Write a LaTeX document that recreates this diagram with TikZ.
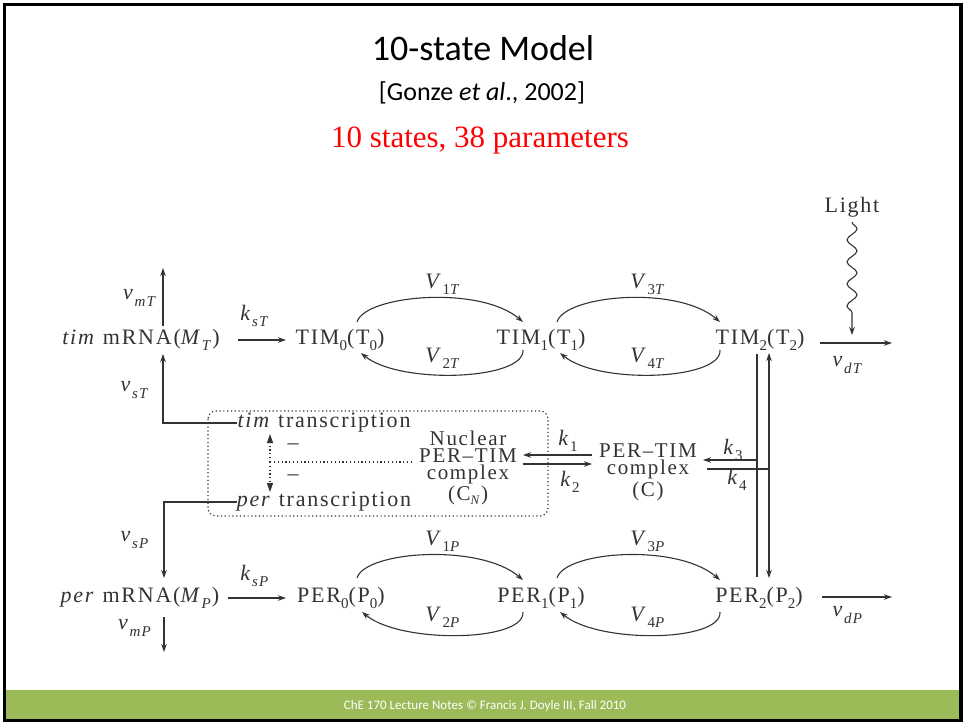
\documentclass[tikz,border=0pt]{standalone}
\usepackage{fontspec}
\setmainfont{Liberation Serif}
\newfontfamily\titlefont{Carlito}
\newfontfamily\dfont[LetterSpace=8]{Liberation Serif}
\usetikzlibrary{arrows.meta,decorations.pathmorphing}
\definecolor{footgreen}{HTML}{9BBB59}
\definecolor{ink}{HTML}{333333}
\newcommand{\sbs}[1]{\raisebox{-0.28em}{\fontsize{15}{15}\selectfont #1}}
\newcommand{\sbn}[1]{\raisebox{-0.2em}{\fontsize{13}{13}\selectfont #1}}
\begin{document}
\begin{tikzpicture}[x=1pt,y=-1pt,
  lbl/.style={inner sep=0pt, font=\dfont\fontsize{22}{17}\selectfont, text=ink},
  cline/.style={inner sep=0pt, font=\dfont\fontsize{21}{17}\selectfont, text=ink, text height=11pt, text depth=1pt},
  arr/.style={draw=ink, line width=1.1pt, -{Stealth[length=8pt,width=5.5pt]}},
  ln/.style={draw=ink, line width=1.1pt},
  dots/.style={draw=ink, line width=1.2pt, dash pattern=on 1.2pt off 2.6pt}]
\useasboundingbox (0,0) rectangle (965,723);
\fill[white] (0,0) rectangle (965,723);
% footer and frame
\fill[footgreen] (6,690) rectangle (960,719);
\node[inner sep=0pt, font=\titlefont\fontsize{13}{13}\selectfont, text=white] (foot) at (485,706) {ChE 170 Lecture Notes © Francis J. Doyle III, Fall 2010};
\draw[line width=3.5pt, black] (4.5,4.5) rectangle (961,720.5);
% titles
\node[inner sep=0pt, font=\titlefont\fontsize{36}{36}\selectfont] (title) at (483,48) {10-state Model};
\node[inner sep=0pt, font=\titlefont\fontsize{26}{26}\selectfont] (ref) at (482,93) {[Gonze \textit{et al}., 2002]};
\node[inner sep=0pt, font=\fontsize{31}{31}\selectfont, text=red] (sub) at (480,140) {10 states, 38 parameters};

% main nodes
\node[lbl] (MT) at (141,340) {\textit{tim} mRNA(\textit{M}\sbs{\textit{T}})};
\node[lbl] (T0) at (340,340) {TIM\sbs{0}(T\sbs{0})};
\node[lbl] (T1) at (541,340) {TIM\sbs{1}(T\sbs{1})};
\node[lbl] (T2) at (760,340) {TIM\sbs{2}(T\sbs{2})};
\node[lbl] (MP) at (140,598) {\textit{per} mRNA(\textit{M}\sbs{\textit{P}})};
\node[lbl] (P0) at (341,598) {PER\sbs{0}(P\sbs{0})};
\node[lbl] (P1) at (541,598) {PER\sbs{1}(P\sbs{1})};
\node[lbl] (P2) at (759,598) {PER\sbs{2}(P\sbs{2})};
\node[lbl] (light) at (852,207) {Light};
\node[lbl] (timtr) at (324,423) {\textit{tim} transcription};
\node[lbl] (pertr) at (324,502) {\textit{per} transcription};
% nuclear complex, one node per line
\node[cline] (CNa) at (468,440) {Nuclear};
\node[cline] (CN) at (468,457) {PER–TIM};
\node[cline] (CNc) at (468,474) {complex};
\node[cline] (CNd) at (468,495) {(C\sbn{\textit{N}})};
% cytoplasmic complex
\node[cline] (C) at (648,452) {PER–TIM};
\node[cline] (Cb) at (648,469) {complex};
\node[cline] (Cc) at (648,491) {(C)};

% labels
\node[lbl] (lvmT) at (140,298) {\textit{v}\sbs{\textit{mT}}};
\node[lbl] (lvsT) at (135,390) {\textit{v}\sbs{\textit{sT}}};
\node[lbl] (lksT) at (255,316) {\textit{k}\sbs{\textit{sT}}};
\node[lbl] (lV1T) at (443,284) {\textit{V}\sbs{1\textit{T}}};
\node[lbl] (lV2T) at (443,358) {\textit{V}\sbs{2\textit{T}}};
\node[lbl] (lV3T) at (648,284) {\textit{V}\sbs{3\textit{T}}};
\node[lbl] (lV4T) at (648,358) {\textit{V}\sbs{4\textit{T}}};
\node[lbl] (lvdT) at (848,365) {\textit{v}\sbs{\textit{dT}}};
\node[lbl] (lvsP) at (135,540) {\textit{v}\sbs{\textit{sP}}};
\node[lbl] (lvmP) at (135,628) {\textit{v}\sbs{\textit{mP}}};
\node[lbl] (lksP) at (255,576) {\textit{k}\sbs{\textit{sP}}};
\node[lbl] (lV1P) at (443,541) {\textit{V}\sbs{1\textit{P}}};
\node[lbl] (lV2P) at (443,617) {\textit{V}\sbs{2\textit{P}}};
\node[lbl] (lV3P) at (648,541) {\textit{V}\sbs{3\textit{P}}};
\node[lbl] (lV4P) at (648,617) {\textit{V}\sbs{4\textit{P}}};
\node[lbl] (lvdP) at (848,615) {\textit{v}\sbs{\textit{dP}}};
\node[lbl] (lk1) at (568,441) {\textit{k}\sbs{1}};
\node[lbl] (lk2) at (570,482) {\textit{k}\sbs{2}};
\node[lbl] (lk3) at (733,450) {\textit{k}\sbs{3}};
\node[lbl] (lk4) at (737,480) {\textit{k}\sbs{4}};
\node[lbl] (minus1) at (293,447) {–};
\node[lbl] (minus2) at (293,478) {–};

% connector end points
\coordinate (MTtop) at (163,326);
\coordinate (MTout) at (163,268);
\coordinate (MTbot) at (163,354);
\coordinate (MTr) at (238,340);
\coordinate (T0l) at (286,340);
\coordinate (MPtop) at (164,578);
\coordinate (MPbot) at (164,617);
\coordinate (MPout) at (164,652);
\coordinate (MPr) at (228,598);
\coordinate (P0l) at (286,598);
\coordinate (T0ne) at (357,322);
\coordinate (T1nw) at (523,322);
\coordinate (T1sw) at (523,350);
\coordinate (T0se) at (361,353);
\coordinate (T1ne) at (557,322);
\coordinate (T2nw) at (720,322);
\coordinate (T2sw) at (720,350);
\coordinate (T1se) at (560,353);
\coordinate (P0ne) at (357,578);
\coordinate (P1nw) at (523,580);
\coordinate (P1sw) at (523,612);
\coordinate (P0se) at (362,612);
\coordinate (P1ne) at (557,578);
\coordinate (P2nw) at (720,580);
\coordinate (P2sw) at (720,612);
\coordinate (P1se) at (560,612);
\coordinate (lightS) at (852,222);
\coordinate (lightE) at (852,335);
\coordinate (T2r) at (820,343);
\coordinate (vdTend) at (892,343);
\coordinate (P2r) at (822,597);
\coordinate (vdPend) at (892,597);
\coordinate (T2bL) at (757,354);
\coordinate (P2tL) at (757,577);
\coordinate (T2bR) at (769,353);
\coordinate (P2tR) at (769,578);
\coordinate (k3s) at (757,460);
\coordinate (Cr) at (703,460);
\coordinate (Cr2) at (707,469);
\coordinate (k4e) at (769,469);
\coordinate (Cl1) at (592,455);
\coordinate (CNr1) at (523,455);
\coordinate (CNr2) at (523,464);
\coordinate (Cl2) at (592,464);
\coordinate (inhS) at (412,462);
\coordinate (inhM) at (270,462);
\coordinate (inhU) at (270,438);
\coordinate (inhD) at (270,488);

% mRNA connectors
\draw[arr] (MTtop) -- (MTout);
\draw[arr] (timtr.west) -| (MTbot);
\draw[arr] (MTr) -- (T0l);
\draw[arr] (pertr.west) -| (MPtop);
\draw[arr] (MPbot) -- (MPout);
\draw[arr] (MPr) -- (P0l);

% phosphorylation arcs
\draw[arr] (T0ne) .. controls +(8,-27) and +(-43,-37) .. (T1nw);
\draw[arr] (T1sw) .. controls +(2,30) and +(39,32) .. (T0se);
\draw[arr] (T1ne) .. controls +(8,-27) and +(-43,-37) .. (T2nw);
\draw[arr] (T2sw) .. controls +(2,30) and +(39,32) .. (T1se);
\draw[arr] (P0ne) .. controls +(8,-27) and +(-43,-37) .. (P1nw);
\draw[arr] (P1sw) .. controls +(2,30) and +(39,32) .. (P0se);
\draw[arr] (P1ne) .. controls +(8,-27) and +(-43,-37) .. (P2nw);
\draw[arr] (P2sw) .. controls +(2,30) and +(39,32) .. (P1se);

% light and degradation
\draw[arr, decorate, decoration={snake, amplitude=5pt, segment length=22pt, post length=14pt}] (lightS) -- (lightE);
\draw[arr] (T2r) -- (vdTend);
\draw[arr] (P2r) -- (vdPend);

% complex formation
\draw[ln] (T2bL) -- (P2tL);
\draw[draw=ink, line width=1.1pt, {Stealth[length=8pt,width=5.5pt]}-{Stealth[length=8pt,width=5.5pt]}] (T2bR) -- (P2tR);
\draw[arr] (k3s) -- (Cr);
\draw[ln] (Cr2) -- (k4e);
\draw[arr] (Cl1) -- (CNr1);
\draw[arr] (CNr2) -- (Cl2);

% nucleus box and inhibition
\draw[dots, rounded corners=8pt] (208,411) rectangle (548,516);
\draw[dots] (inhS) -- (inhM);
\draw[dots] (inhM) -- (inhU);
\draw[dots] (inhM) -- (inhD);
\fill[ink] (inhU) ++(0,-4) -- ++(-3.2,9) -- ++(6.4,0) -- cycle;
\fill[ink] (inhD) ++(0,4) -- ++(-3.2,-9) -- ++(6.4,0) -- cycle;
\end{tikzpicture}
\end{document}
